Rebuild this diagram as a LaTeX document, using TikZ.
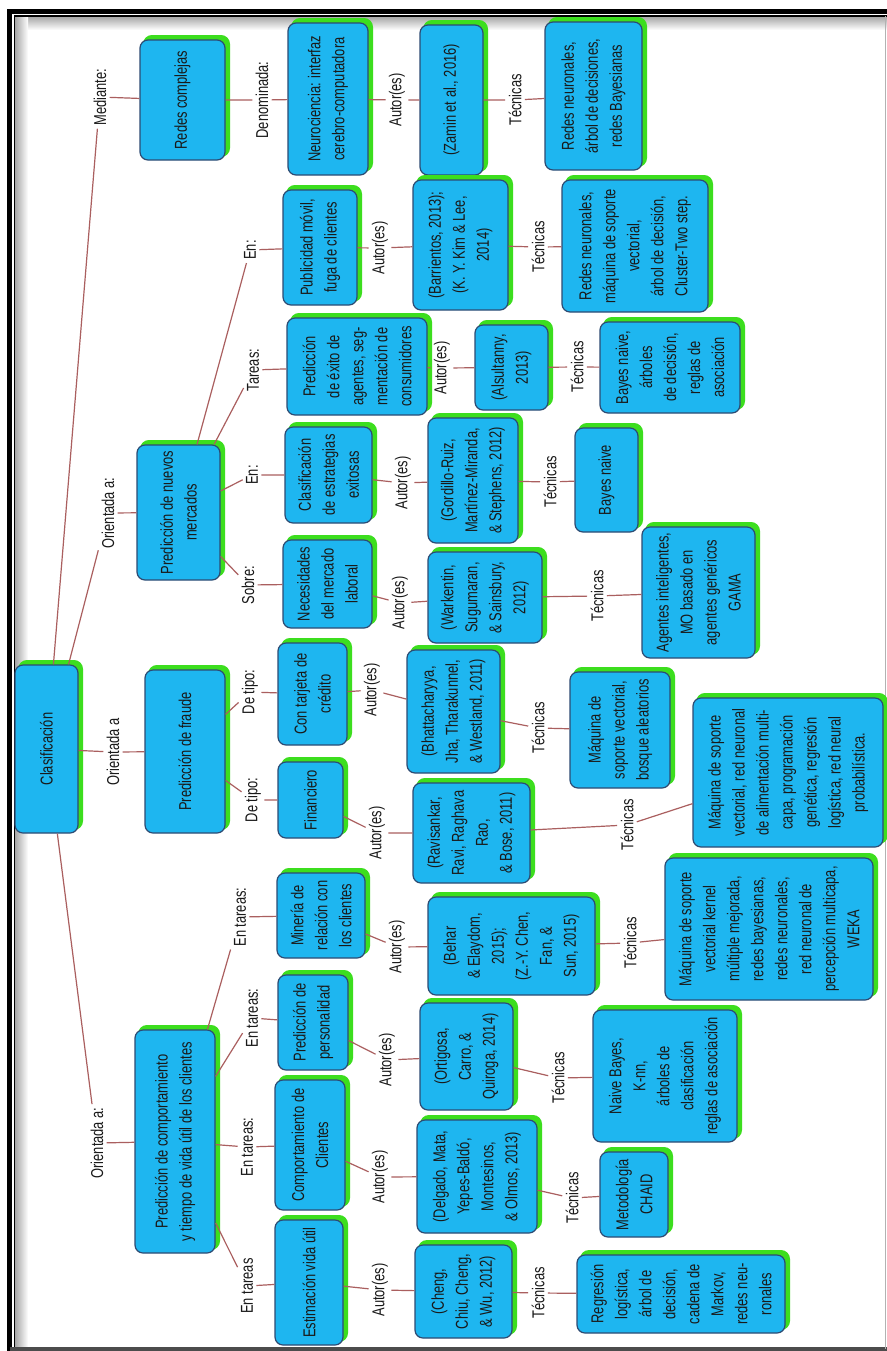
\documentclass[tikz,border=0pt]{standalone}
\usepackage{fontspec}
\setmainfont{Liberation Sans}[FakeStretch=0.75]
\definecolor{boxfill}{RGB}{30,182,240}
\definecolor{boxline}{RGB}{45,75,115}
\definecolor{boxshade}{RGB}{60,222,30}
\definecolor{linkred}{RGB}{170,95,95}
\definecolor{inktext}{RGB}{25,25,25}
\tikzset{
  conc/.style={rotate=90, draw=boxline, fill=boxfill, line width=0.6pt,
    rounded corners=4pt, align=center, inner sep=1pt, text=inktext,
    font=\fontsize{8.6}{12}\selectfont,
    preaction={fill=boxshade, draw=boxshade, line width=1pt,
      transform canvas={xshift=2pt, yshift=2pt}}},
  sz/.style 2 args={minimum height=#1*0.5pt, minimum width=#2*0.5pt},
  lbl/.style={rotate=90, inner sep=1.5pt, text=inktext,
    font=\fontsize{8.6}{12}\selectfont},
  link/.style={draw=linkred, line width=0.6pt},
}
\begin{document}
\begin{tikzpicture}[x=0.5pt, y=-0.5pt]
\useasboundingbox (0,0) rectangle (887,1351);
% frame
\fill[white] (0,0) rectangle (887,1351);
\shade[top color=black!35, bottom color=white] (15,16.5) rectangle (887,30);
\shade[left color=black!35, right color=white] (15,16.5) rectangle (28,1351);
\draw[line width=2.6pt] (9.5,1351) -- (9.5,11.7) -- (887,11.7);
\draw[line width=0.8pt] (14.6,1351) -- (14.6,15.9) -- (887,15.9);
\draw[black!70, line width=1.6pt] (9.5,1349) -- (887,1349);
\draw[black!30, line width=0.8pt] (885.5,16) -- (885.5,1349);

% level 1 and 2
\node[conc, sz={63}{168}] (clas) at (46.5,749) {Clasificación};
\node[conc, sz={85}{120}] (redes) at (182.5,100) {Redes complejas};
\node[conc, sz={83}{135}] (nuevos) at (178.5,512.5) {Predicción de nuevos\\mercados};
\node[conc, sz={80}{163}] (fraude) at (185,751.5) {Predicción de fraude};
\node[conc, sz={80}{223}] (comp) at (175,1141.5) {Predicción de comportamiento\\y tiempo de vida útil de los clientes};

\node[lbl] (lmed) at (100,97) {Mediante:};
\node[lbl] (lor1) at (108,513) {Orientada a:};
\node[lbl] (lor2) at (113,752) {Orientada a};
\node[lbl] (lor3) at (97,1143) {Orientada a:};

% redes complejas
\node[lbl] (lden) at (262,100) {Denominada:};
\node[conc, sz={80}{152}] (neuro) at (328,99) {Neurociencia: interfaz\\cerebro-computadora};
\node[lbl] (lau1) at (397,100) {Autor(es)};
\node[conc, sz={63}{150}] (zamin) at (451.5,100) {(Zamin et al., 2016)};
\node[lbl] (lte1) at (515,100) {Técnicas};
\node[conc, sz={97}{148}] (tec1) at (593.5,96) {Redes neuronales,\\árbol de decisiones,\\redes Bayesianas};

% nuevos mercados
\node[lbl] (len1) at (250,250) {En:};
\node[conc, sz={74}{115}] (publi) at (320,247.5) {Publicidad móvil,\\fuga de clientes};
\node[lbl] (lau2) at (380,248) {Autor(es)};
\node[conc, sz={95}{130}] (barr) at (460.5,245) {(Barrientos, 2013);\\(K. Y. Kim \& Lee,\\2014)};
\node[lbl] (lte2) at (538,247) {Técnicas};
\node[conc, sz={146}{132}] (tec2) at (635,246) {Redes neuronales,\\máquina de soporte\\vectorial,\\árbol de decisión,\\Cluster-Two step.};

\node[lbl] (ltar) at (253,370) {Tareas:};
\node[conc, sz={140}{97}] (exito) at (357,366.5) {Predicción\\de éxito de\\agentes, seg-\\mentación de\\consumidores};
\node[lbl] (lau3) at (442,368) {Autor(es)};
\node[conc, sz={73}{85}] (alsu) at (511.5,367.5) {(Alsultanny,\\2013)};
\node[lbl] (lte3) at (577,367) {Técnicas};
\node[conc, sz={140}{91}] (tec3) at (670,367.5) {Bayes naive,\\árboles\\de decisión,\\reglas de\\asociación};

\node[lbl] (len2) at (252,475) {En:};
\node[conc, sz={87}{96}] (estr) at (328.5,475) {Clasificación\\de estrategias\\exitosas};
\node[lbl] (lau4) at (403,483) {Autor(es)};
\node[conc, sz={90}{125}] (gord) at (473,480.5) {(Gordillo-Ruiz,\\Martínez-Miranda,\\\& Stephens, 2012)};
\node[lbl] (lte4) at (550,482) {Técnicas};
\node[conc, sz={63}{104}] (tec4) at (606.5,480) {Bayes naive};

\node[lbl] (lsob) at (248,585) {Sobre:};
\node[conc, sz={89}{88}] (nece) at (327.5,584) {Necesidades\\del mercado\\laboral};
\node[lbl] (lau5) at (400,603) {Autor(es)};
\node[conc, sz={114}{91}] (wark) at (485,597.5) {(Warkentin,\\Sugumaran,\\\& Sainsbury,\\2012)};
\node[lbl] (lte5) at (597,596) {Técnicas};
\node[conc, sz={113}{131}] (tec5) at (698.5,592.5) {Agentes inteligentes,\\MO basado en\\agentes genéricos\\GAMA};

% fraude
\node[lbl] (ltip1) at (250,692) {De tipo:};
\node[conc, sz={69}{102}] (tarj) at (312.5,694) {Con tarjeta de\\crédito};
\node[lbl] (lau6) at (372,690) {Autor(es)};
\node[conc, sz={93}{123}] (bhat) at (453.5,711.5) {(Bhattacharyya,\\Jha, Tharakunnel,\\\& Westland, 2011)};
\node[lbl] (lte6) at (538,728) {Técnicas};
\node[conc, sz={100}{116}] (tec6) at (620,730) {Máquina de\\soporte vectorial,\\bosque aleatorios};

\node[lbl] (ltip2) at (253,800) {De tipo:};
\node[conc, sz={65}{76}] (fin) at (310.5,800) {Financiero};
\node[lbl] (lau7) at (377,833) {Autor(es)};
\node[conc, sz={117}{100}] (ravi) at (471.5,833) {(Ravisankar,\\Ravi, Raghava\\Rao,\\\& Bose, 2011)};
\node[lbl] (lte7) at (627,825) {Técnicas};
\node[conc, sz={190}{149}] (tec7) at (788,772.5) {Máquina de soporte\\vectorial, red neuronal\\de alimentación multi-\\capa, programación\\genética, regresión\\logística, red neural\\probabilística.};

% comportamiento
\node[lbl] (lent1) at (240,917) {En tareas:};
\node[conc, sz={88}{85}] (mine) at (321,915.5) {Minería de\\relación con\\los clientes};
\node[lbl] (lau8) at (397,947) {Autor(es)};
\node[conc, sz={167}{98}] (beh) at (511.5,946) {(Behar\\\& Elaydom,\\2015);\\(Z.-Y. Chen,\\Fan, \&\\Sun, 2015)};
\node[lbl] (lte8) at (630,943) {Técnicas};
\node[conc, sz={208}{142}] (tec8) at (769,929) {Máquina de soporte\\vectorial kernel\\múltiple mejorada,\\redes bayesianas,\\redes neuronales,\\red neuronal de\\percepción multicapa,\\WEKA};

\node[lbl] (lent2) at (252,1018) {En tareas:};
\node[conc, sz={70}{95}] (perso) at (313,1022.5) {Predicción de\\personalidad};
\node[lbl] (lau9) at (387,1060) {Autor(es)};
\node[conc, sz={93}{107}] (orti) at (466.5,1056.5) {(Ortigosa,\\Carro, \&\\Quiroga, 2014)};
\node[lbl] (lte9) at (558,1078) {Técnicas};
\node[conc, sz={144}{132}] (tec9) at (665,1076) {Naive Bayes,\\K-nn,\\árboles de\\clasificación\\reglas de asociación};

\node[lbl] (lent3) at (247,1147) {En tareas:};
\node[conc, sz={70}{130}] (compc) at (310,1145) {Comportamiento de\\Clientes};
\node[lbl] (lau10) at (380,1177) {Autor(es)};
\node[conc, sz={120}{113}] (delg) at (477,1176.5) {(Delgado, Mata,\\Yepes-Baldó,\\Montesinos,\\\& Olmos, 2013)};
\node[lbl] (lte10) at (572,1198) {Técnicas};
\node[conc, sz={68}{85}] (tec10) at (634,1194.5) {Metodología\\CHAID};

\node[lbl] (lent4) at (247,1286) {En tareas};
\node[conc, sz={68}{125}] (esti) at (309,1282.5) {Estimación vida útil};
\node[lbl] (lau11) at (380,1290) {Autor(es)};
\node[conc, sz={97}{93}] (cheng) at (463.5,1291.5) {(Cheng,\\Chiu, Cheng,\\\& Wu, 2012)};
\node[lbl] (lte11) at (538,1293) {Técnicas};
\node[conc, sz={208}{78}] (tec11) at (681,1294) {Regresión\\logística,\\árbol de\\decisión,\\cadena de\\Markov,\\redes neu-\\ronales};

% connectors
\draw[link] (clas) -- (lmed) -- (redes);
\draw[link] (clas) -- (lor1) -- (nuevos);
\draw[link] (clas) -- (lor2) -- (fraude);
\draw[link] (clas) -- (lor3) -- (comp);
\draw[link] (redes) -- (lden) -- (neuro) -- (lau1) -- (zamin) -- (lte1) -- (tec1);
\draw[link] (nuevos) -- (len1) -- (publi) -- (lau2) -- (barr) -- (lte2) -- (tec2);
\draw[link] (nuevos) -- (ltar) -- (exito) -- (lau3) -- (alsu) -- (lte3) -- (tec3);
\draw[link] (nuevos) -- (len2) -- (estr) -- (lau4) -- (gord) -- (lte4) -- (tec4);
\draw[link] (nuevos) -- (lsob) -- (nece) -- (lau5) -- (wark) -- (lte5) -- (tec5);
\draw[link] (fraude) -- (ltip1) -- (tarj) -- (lau6) -- (bhat) -- (lte6) -- (tec6);
\draw[link] (fraude) -- (ltip2) -- (fin) -- (lau7) -- (ravi) -- (lte7) -- (tec7);
\draw[link] (comp) -- (lent1) -- (mine) -- (lau8) -- (beh) -- (lte8) -- (tec8);
\draw[link] (comp) -- (lent2) -- (perso) -- (lau9) -- (orti) -- (lte9) -- (tec9);
\draw[link] (comp) -- (lent3) -- (compc) -- (lau10) -- (delg) -- (lte10) -- (tec10);
\draw[link] (comp) -- (lent4) -- (esti) -- (lau11) -- (cheng) -- (lte11) -- (tec11);
\end{tikzpicture}
\end{document}
